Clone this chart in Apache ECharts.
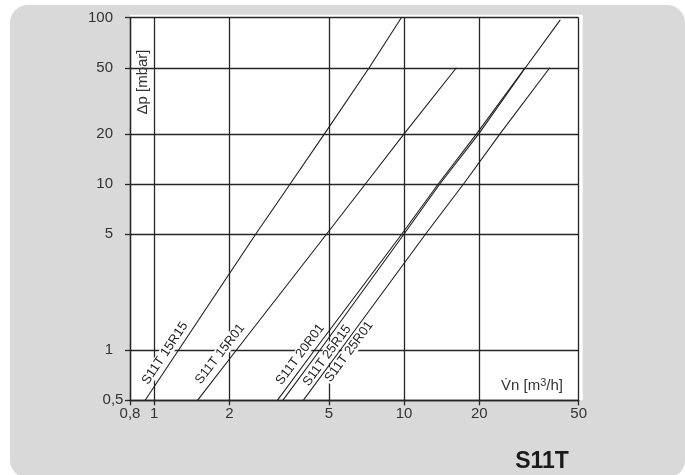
<!DOCTYPE html>
<html><head><meta charset="utf-8">
<script src="https://cdn.jsdelivr.net/npm/echarts@6/dist/echarts.min.js"></script>
<style>html,body{margin:0;padding:0;background:#fff}#c{width:685px;height:475px}</style>
</head><body><div id="c"></div>
<script>
// ---- data ----
const xTicks = [0.8, 1, 2, 5, 10, 20, 50];
const yTicks = [0.5, 1, 5, 10, 20, 50, 100];
const names = ['S11T 15R15', 'S11T 15R01', 'S11T 20R01', 'S11T 25R15', 'S11T 25R01'];
const s15R15 = [[0.92, 0.5], [1.25, 1], [2.55, 5], [3.5, 10], [4.8, 20], [7.25, 50], [9.75, 100]];
const s15R01 = [[1.49, 0.5], [2.13, 1], [4.9, 5], [7.0, 10], [10, 20], [16.2, 50]];
const s20R01 = [[3.11, 0.5], [4.38, 1], [9.8, 5], [13.7, 10], [19.5, 20], [30.5, 50]];
const s25R15 = [[3.27, 0.5], [4.6, 1], [10, 5], [13.9, 10], [19.9, 20], [30.6, 50], [42.2, 97]];
const s25R01 = [[3.95, 0.5], [5.55, 1], [12.2, 5], [17.3, 10], [24.2, 20], [38.3, 50]];
const yName = 'Δp [mbar]';
const title = 'S11T';

const seriesData = [s15R15, s15R01, s20R01, s25R15, s25R01];
const ink = '#1e1e1e';
const gridInk = '#262626';
const FONT = '"Liberation Sans", Arial, sans-serif';

function fmt(v) {
  const all = xTicks.concat(yTicks);
  const t = all.find(k => Math.abs(k - v) / k < 1e-6);
  return String(t !== undefined ? t : v).replace('.', ',');
}

function axisCommon(ticks) {
  return {
    type: 'log', logBase: 10,
    axisLine: { show: true, onZero: false, lineStyle: { color: gridInk, width: 1.3 } },
    axisTick: { show: true, length: 5, customValues: ticks, lineStyle: { color: gridInk, width: 1.3 } },
    splitLine: { show: true, lineStyle: { color: gridInk, width: 1.3 } },
    minorTick: { show: false }, minorSplitLine: { show: false }
  };
}

const chart = echarts.init(document.getElementById('c'), null, { renderer: 'canvas' });
const option = {
  animation: false,
  grid: { left: 130, right: 106.3, top: 17.7, bottom: 74.7, show: true, backgroundColor: '#ffffff', borderWidth: 0 },
  xAxis: Object.assign(axisCommon(xTicks), {
    min: xTicks[0], max: xTicks[xTicks.length - 1],
    axisLabel: { customValues: xTicks, formatter: fmt, margin: 6, fontSize: 15, color: '#333', fontFamily: FONT }
  }),
  yAxis: Object.assign(axisCommon(yTicks), {
    min: yTicks[0], max: yTicks[yTicks.length - 1],
    axisLabel: { customValues: yTicks, formatter: fmt, margin: 17, fontSize: 15, color: '#333', fontFamily: FONT, alignMinLabel: 'center' }
  }),
  series: seriesData.map((d, i) => ({
    type: 'line', name: names[i], data: d, showSymbol: false, symbol: 'none', z: 5, silent: true,
    lineStyle: { color: ink, width: 1.1 }, emphasis: { disabled: true }
  }))
};
chart.setOption(option);

// label placement: [along line, perpendicular] in px from the line's 1 mbar point
const labelNudge = [[-10, 9.5], [-13, 10.5], [-12, 9], [0, -9], [4, -8]];
const labels = seriesData.map((d, i) => {
  const a = d.find(p => p[1] === 1);
  const pa = chart.convertToPixel({ gridIndex: 0 }, a);
  const p0 = chart.convertToPixel({ gridIndex: 0 }, d[0]);
  const p1 = chart.convertToPixel({ gridIndex: 0 }, d[d.length - 1]);
  const ang = Math.atan2(p0[1] - p1[1], p1[0] - p0[0]);
  const ux = Math.cos(ang), uy = -Math.sin(ang);
  const nx = -Math.sin(ang), ny = -Math.cos(ang);
  const al = labelNudge[i][0], pe = labelNudge[i][1];
  return {
    type: 'text', x: pa[0] + ux * al + nx * pe, y: pa[1] + uy * al + ny * pe, rotation: ang, z: 2, silent: true,
    style: { text: names[i], font: '13px ' + FONT, fill: '#222', align: 'center', verticalAlign: 'middle', backgroundColor: '#fff', padding: [0, 1] }
  };
});

// plot frame geometry for the slightly larger white panel behind the grid
const tl = chart.convertToPixel({ gridIndex: 0 }, [xTicks[0], yTicks[yTicks.length - 1]]);
const br = chart.convertToPixel({ gridIndex: 0 }, [xTicks[xTicks.length - 1], yTicks[0]]);

chart.setOption({
  graphic: [
    { type: 'rect', z: -10, silent: true, shape: { x: 10, y: 5, width: 675, height: 473, r: 18 }, style: { fill: '#d9d9d9' } },
    { type: 'rect', z: -9, silent: true, shape: { x: tl[0], y: tl[1] - 3, width: br[0] - tl[0] + 4, height: br[1] - tl[1] + 3 }, style: { fill: '#fff' } },
    ...labels,
    { type: 'text', z: 6, silent: true, x: 143, y: 82, rotation: Math.PI / 2,
      style: { text: yName, font: '15px ' + FONT, fill: '#333', align: 'center', verticalAlign: 'middle' } },
    { type: 'text', z: 6, silent: true, x: 532, y: 386,
      style: { text: '{a|V\u0307n [m}{s|3}{a|/h]}', align: 'center', verticalAlign: 'middle',
        rich: { a: { fontSize: 15, fontFamily: FONT, fill: '#333', color: '#333' },
                s: { fontSize: 11, fontFamily: FONT, fill: '#333', color: '#333', padding: [0, 0, 7, 0] } } } },
    { type: 'text', z: 6, silent: true, x: 542, y: 462,
      style: { text: title, font: 'bold 23px ' + FONT, fill: '#1a1a1a', align: 'center', verticalAlign: 'middle' } }
  ]
});
</script></body></html>
